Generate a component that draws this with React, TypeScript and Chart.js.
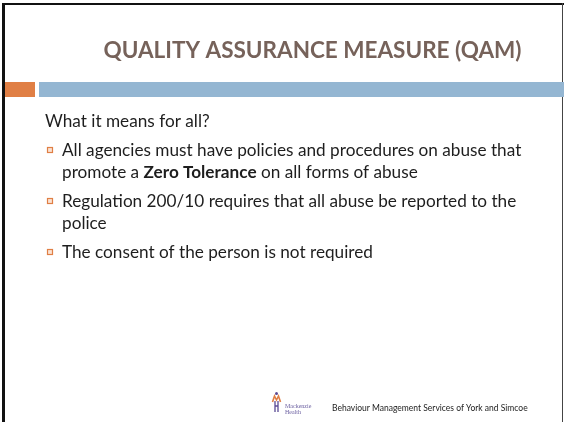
import React, { useEffect, useRef } from "react";
import { Chart, registerables } from "chart.js";

Chart.register(...registerables);

const TITLE = "QUALITY ASSURANCE MEASURE (QAM)";
const INTRO = "What it means for all?";
type Run = { t: string; b?: boolean };
const BULLETS: Run[][][] = [
  [
    [{ t: "All agencies must have policies and procedures on abuse that" }],
    [{ t: "promote a " }, { t: "Zero Tolerance", b: true }, { t: " on all forms of abuse" }],
  ],
  [
    [{ t: "Regulation 200/10 requires that all abuse be reported to the" }],
    [{ t: "police" }],
  ],
  [[{ t: "The consent of the person is not required" }]],
];
const LOGO_LINES = ["Mackenzie", "Health"];
const FOOTER = "Behaviour Management Services of York and Simcoe";

const TITLE_COLOR = "#76625a";
const TEXT_COLOR = "#1e1e1e";
const ORANGE = "#e07f45";
const BLUE = "#94b6d2";
const PURPLE = "#5b4b95";
const FONT = "Lato, 'Open Sans', sans-serif";

const slidePlugin = {
  id: "slide",
  beforeDraw(chart: any) {
    const ctx = chart.ctx as CanvasRenderingContext2D;
    const W = chart.width;
    const H = chart.height;
    ctx.save();
    ctx.fillStyle = "#ffffff";
    ctx.fillRect(0, 0, W, H);
    // frame
    ctx.fillStyle = "#111111";
    ctx.fillRect(2, 3, 3, H - 3);
    ctx.fillRect(2, 3, W - 2, 2);
    ctx.fillStyle = "#444444";
    ctx.fillRect(562, 3, 1, H - 3);
    // header bars
    ctx.fillStyle = ORANGE;
    ctx.fillRect(5, 82, 30, 15);
    ctx.fillStyle = BLUE;
    ctx.fillRect(39, 82, W - 39, 15);
    ctx.restore();
  },
  afterDraw(chart: any) {
    const ctx = chart.ctx as CanvasRenderingContext2D;
    ctx.save();
    ctx.textBaseline = "alphabetic";
    ctx.textAlign = "left";
    const size = 17.2;
    const normal = `normal ${size}px ${FONT}`;
    const bold = `bold ${size}px ${FONT}`;
    ctx.fillStyle = TEXT_COLOR;
    ctx.font = normal;
    ctx.fillText(INTRO, 45, 127);

    let y = 156;
    BULLETS.forEach((bullet) => {
      // bullet square
      ctx.strokeStyle = ORANGE;
      ctx.lineWidth = 1.2;
      ctx.fillStyle = "#fbe3d3";
      ctx.fillRect(47.5, y - 8.5, 5, 5);
      ctx.strokeRect(47.5, y - 8.5, 5, 5);
      bullet.forEach((line, li) => {
        let x = 62;
        line.forEach((run) => {
          ctx.font = run.b ? bold : normal;
          ctx.fillStyle = TEXT_COLOR;
          ctx.fillText(run.t, x, y);
          x += ctx.measureText(run.t).width;
        });
        y += li < bullet.length - 1 ? 22 : 0;
      });
      y += 29;
    });

    // logo
    ctx.strokeStyle = ORANGE;
    ctx.lineWidth = 1.6;
    ctx.beginPath();
    ctx.moveTo(272.5, 402);
    ctx.lineTo(274.5, 396);
    ctx.lineTo(276.5, 400);
    ctx.lineTo(278.5, 396);
    ctx.lineTo(280.5, 402);
    ctx.stroke();
    ctx.fillStyle = PURPLE;
    ctx.beginPath();
    ctx.arc(276.5, 393.5, 1.5, 0, Math.PI * 2);
    ctx.fill();
    ctx.strokeStyle = PURPLE;
    ctx.lineWidth = 1.3;
    ctx.beginPath();
    ctx.moveTo(275, 401);
    ctx.lineTo(275, 412);
    ctx.moveTo(278, 401);
    ctx.lineTo(278, 412);
    ctx.moveTo(275, 406);
    ctx.lineTo(278, 406);
    ctx.stroke();
    ctx.fillStyle = "#6b5fa0";
    ctx.font = `normal 6px 'Liberation Serif', serif`;
    ctx.fillText(LOGO_LINES[0], 285, 407.5);
    ctx.fillText(LOGO_LINES[1], 285, 413.5);

    // footer
    ctx.fillStyle = "#222222";
    ctx.font = `normal 8.5px ${FONT}`;
    ctx.fillText(FOOTER, 332, 411);
    ctx.restore();
  },
};

export default function App() {
  const ref = useRef<HTMLCanvasElement | null>(null);
  useEffect(() => {
    if (!ref.current) return;
    const chart = new Chart(ref.current, {
      type: "bar",
      data: { labels: [], datasets: [] },
      options: {
        responsive: false,
        animation: false,
        devicePixelRatio: 1,
        layout: { padding: { left: 61, right: 0, top: 0, bottom: 0 } },
        scales: { x: { display: false }, y: { display: false } },
        plugins: {
          legend: { display: false },
          tooltip: { enabled: false },
          title: {
            display: true,
            text: TITLE,
            color: TITLE_COLOR,
            font: { family: FONT, size: 22.5, weight: "bold" },
            padding: { top: 37, bottom: 0 },
          },
        },
      },
      plugins: [slidePlugin],
    });
    return () => chart.destroy();
  }, []);
  return (
    <div style={{ position: "fixed", left: 0, top: 0, width: 564, height: 422 }}>
      <canvas ref={ref} width={564} height={422} style={{ display: "block" }} />
    </div>
  );
}
